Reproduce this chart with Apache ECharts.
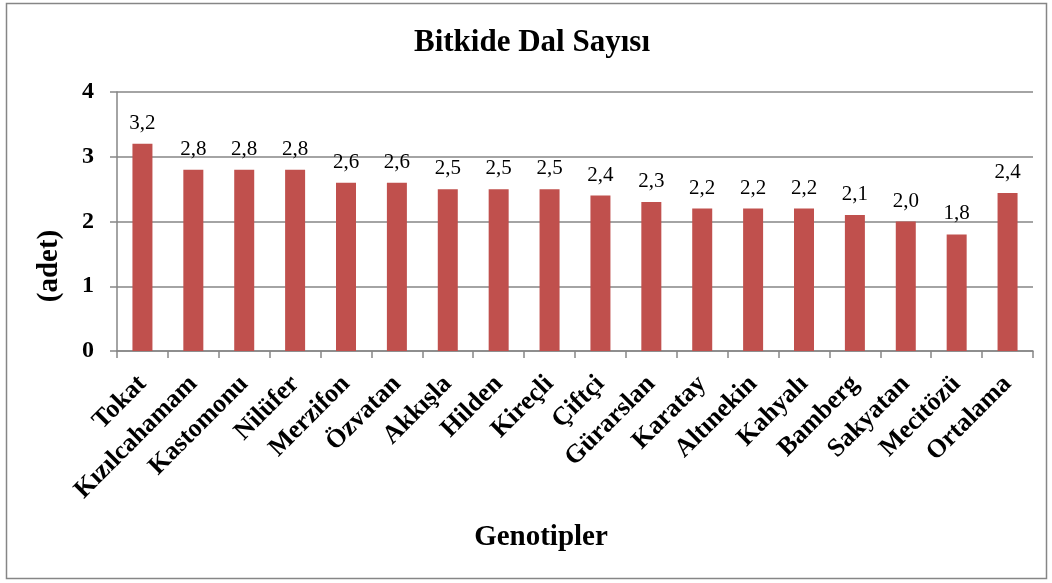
<!DOCTYPE html>
<html>
<head>
<meta charset="utf-8">
<script src="https://cdn.jsdelivr.net/npm/echarts@6/dist/echarts.min.js"></script>
<style>html,body{margin:0;padding:0;background:#fff}#c{width:1052px;height:583px}</style>
</head>
<body>
<div id="c"></div>
<script>
const categories = ["Tokat","Kızılcahamam","Kastomonu","Nilüfer","Merzifon","Özvatan","Akkışla","Hilden","Kireçli","Çiftçi","Gürarslan","Karatay","Altınekin","Kahyalı","Bamberg","Sakyatan","Mecitözü","Ortalama"];
const values = [3.2,2.8,2.8,2.8,2.6,2.6,2.5,2.5,2.5,2.4,2.3,2.2,2.2,2.2,2.1,2.0,1.8,2.44];
const yTicks = [0,1,2,3,4];
const titleText = "Bitkide Dal Sayısı";
const yName = "(adet)";
const xName = "Genotipler";

const F = "'Liberation Serif','Times New Roman',serif";
const chart = echarts.init(document.getElementById('c'));
chart.setOption({
  animation: false,
  grid: {left: 117, right: 19, top: 92, bottom: 232},
  graphic: [
    {type: 'rect', shape: {x: 6.5, y: 3.5, width: 1040, height: 575}, style: {fill: 'none', stroke: '#868686', lineWidth: 1.5}, silent: true},
    {type: 'text', x: 532, y: 43, style: {text: titleText, fontFamily: F, fontSize: 31, fontWeight: 'bold', fill: '#000', align: 'center', verticalAlign: 'middle'}},
    {type: 'text', x: 50, y: 266, rotation: Math.PI/2, style: {text: yName, fontFamily: F, fontSize: 29, fontWeight: 'bold', fill: '#000', align: 'center', verticalAlign: 'middle'}},
    {type: 'text', x: 541, y: 538, style: {text: xName, fontFamily: F, fontSize: 29, fontWeight: 'bold', fill: '#000', align: 'center', verticalAlign: 'middle'}}
  ],
  xAxis: {
    type: 'category', data: categories,
    axisLine: {lineStyle: {color: '#868686', width: 1.5}},
    axisTick: {show: true, alignWithLabel: false, length: 7, lineStyle: {color: '#868686', width: 1.5}},
    axisLabel: {rotate: 45, interval: 0, margin: 29, fontFamily: F, fontSize: 26, fontWeight: 'bold', color: '#000'}
  },
  yAxis: {
    type: 'value', min: 0, max: 4, interval: 1,
    axisLine: {show: true, lineStyle: {color: '#868686', width: 1.5}},
    axisTick: {show: true, length: 7, lineStyle: {color: '#868686', width: 1.5}},
    splitLine: {lineStyle: {color: '#868686', width: 1.5}},
    axisLabel: {margin: 23, fontFamily: F, fontSize: 24, fontWeight: 'bold', color: '#000', formatter: v => yTicks.includes(v) ? String(v) : ''}
  },
  series: [{
    type: 'bar', data: values, barWidth: 20,
    itemStyle: {color: '#C0504D'},
    label: {show: true, position: 'top', distance: 10, fontFamily: F, fontSize: 21, color: '#000',
      formatter: p => p.value.toFixed(1).replace('.', ',')}
  }]
});
</script>
</body>
</html>
